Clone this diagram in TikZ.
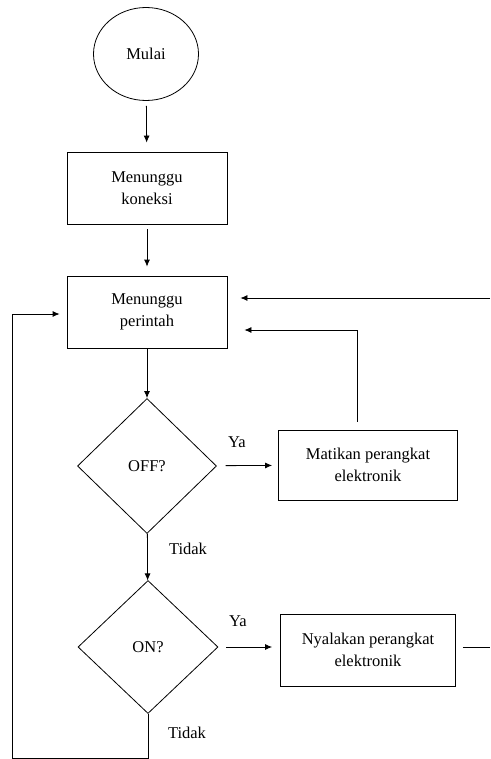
\documentclass[tikz,border=0pt]{standalone}
\usepackage{fontspec}
\setmainfont{Liberation Serif}
\usetikzlibrary{shapes.geometric,arrows.meta}
\begin{document}
\begin{tikzpicture}[x=1pt,y=-1pt,
  every node/.style={font=\fontsize{16.5}{22}\selectfont},
  box/.style={draw,rectangle,line width=0.8pt,align=center,inner sep=0pt},
  dec/.style={draw,diamond,line width=0.8pt,inner sep=0pt},
  ln/.style={line width=0.8pt},
  arr/.style={line width=0.8pt,-{Latex[length=7pt,width=6pt]}},
  lbl/.style={inner sep=0pt}]
\useasboundingbox (0,0) rectangle (490,759);
\node[draw,ellipse,line width=0.8pt,minimum width=105pt,minimum height=93pt,inner sep=0pt] (start) at (146,54) {Mulai};
\node[box,minimum width=160pt,minimum height=72pt] (wait1) at (147,188) {Menunggu\\koneksi};
\node[box,minimum width=160pt,minimum height=72pt] (wait2) at (147,312) {Menunggu\\perintah};
\node[dec,minimum width=139pt,minimum height=135pt] (off) at (147,466) {OFF?};
\node[dec,minimum width=140pt,minimum height=133pt] (on) at (148,647) {ON?};
\node[box,minimum width=179pt,minimum height=70pt] (mati) at (368,465) {Matikan perangkat\\elektronik};
\node[box,minimum width=175pt,minimum height=72pt] (nyala) at (368,650) {Nyalakan perangkat\\elektronik};
\node[lbl] (ya1) at (237,442) {Ya};
\node[lbl] (ya2) at (238,621) {Ya};
\node[lbl] (td1) at (188,549) {Tidak};
\node[lbl] (td2) at (187,733) {Tidak};
\coordinate (r1) at (490,298);
\coordinate (r2) at (490,647);
\coordinate (bl) at (12,758);
\draw[arr,shorten <=5pt,shorten >=9pt] (start) -- (wait1);
\draw[arr,shorten <=5pt,shorten >=9pt] (wait1) -- (wait2);
\draw[arr] (wait2) -- (off);
\draw[arr] (off) -- (on);
\draw[arr,shorten <=9pt,shorten >=6pt] (off) -- (mati);
\draw[arr,shorten <=8pt,shorten >=8pt] (on.east) -- (on.east -| nyala.west);
\draw[arr,shorten <=8pt,shorten >=17pt] ([xshift=-11pt]mati.north) |- ([yshift=-18pt]wait2.east);
\draw[arr,shorten >=13pt] (r1) -- (r1 -| wait2.east);
\draw[ln,shorten <=7pt] (r2 -| nyala.east) -- (r2);
\draw[arr,shorten >=7pt] (on.south) |- (bl) |- ([yshift=-2pt]wait2.west);
\end{tikzpicture}
\end{document}
